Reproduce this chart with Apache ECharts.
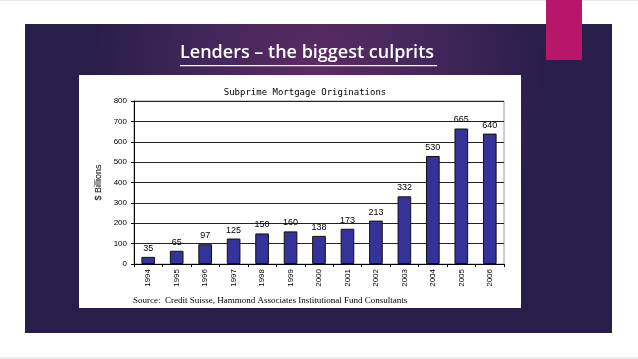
<!DOCTYPE html>
<html>
<head>
<meta charset="utf-8">
<script src="https://cdn.jsdelivr.net/npm/echarts@6/dist/echarts.min.js"></script>
<style>
html,body{margin:0;padding:0;background:#fff;}
#c{width:638px;height:359px;}
</style>
</head>
<body>
<div id="c"></div>
<script>
var years = ['1994','1995','1996','1997','1998','1999','2000','2001','2002','2003','2004','2005','2006'];
var originations = [35, 65, 97, 125, 150, 160, 138, 173, 213, 332, 530, 665, 640];
var yTicks = [0, 100, 200, 300, 400, 500, 600, 700, 800];

var chart = echarts.init(document.getElementById('c'), null, {renderer: 'canvas'});
var option = {
  animation: false,
  backgroundColor: '#ffffff',
  title: {
    text: 'Subprime Mortgage Originations',
    left: 300, top: 83, textAlign: 'center',
    textStyle: {fontFamily: 'DejaVu Sans Mono', fontSize: 9, fontWeight: 'normal', color: '#000'}
  },
  graphic: [
    {type: 'rect', z: -20, silent: true, shape: {x: 0, y: 0, width: 638, height: 1}, style: {fill: '#e8e8e8'}},
    {type: 'rect', z: -20, silent: true, shape: {x: 0, y: 357, width: 638, height: 2}, style: {fill: '#ececec'}},
    {type: 'rect', z: -10, silent: true, shape: {x: 25, y: 24, width: 587, height: 309},
      style: {fill: {type: 'radial', x: 0.5, y: 0.15, r: 0.75, colorStops: [
        {offset: 0, color: '#5d2b63'}, {offset: 0.5, color: '#42265a'}, {offset: 1, color: '#281e4a'}]}}},
    {type: 'rect', z: -9, silent: true, shape: {x: 546, y: 0, width: 36, height: 60}, style: {fill: '#b8166b'}},
    {type: 'rect', z: -8, silent: true, shape: {x: 79, y: 75, width: 442, height: 233}, style: {fill: '#ffffff'}},
    {type: 'text', z: 5, silent: true, left: 180, top: 44,
      style: {text: 'Lenders \u2013 the biggest culprits', fill: '#ffffff', font: '600 18px "Open Sans", sans-serif'}},
    {type: 'rect', z: 5, silent: true, shape: {x: 180, y: 65, width: 257, height: 1.3}, style: {fill: '#ffffff'}},
    {type: 'text', z: 5, silent: true, left: 133, top: 296,
      style: {text: 'Source:  Credit Suisse, Hammond Associates Institutional Fund Consultants', fill: '#000', font: '9px "Liberation Serif", serif'}}
  ],
  grid: {left: 134, top: 101, right: 134, bottom: 95, show: true, borderColor: '#9a9a9a', borderWidth: 1, containLabel: false},
  xAxis: {
    type: 'category', data: years,
    axisLine: {lineStyle: {color: '#000', width: 1}},
    axisTick: {show: true, length: 3, lineStyle: {color: '#000'}},
    axisLabel: {rotate: 90, fontSize: 8, fontFamily: 'Liberation Sans', color: '#000', margin: 5}
  },
  yAxis: {
    type: 'value', min: 0, max: 800, interval: 100,
    name: '$ Billions', nameLocation: 'middle', nameGap: 31, nameRotate: 90,
    nameTextStyle: {fontSize: 9, fontFamily: 'Liberation Sans', color: '#000'},
    axisLine: {show: true, lineStyle: {color: '#000'}},
    axisTick: {show: true, length: 3, lineStyle: {color: '#000'}},
    axisLabel: {fontSize: 8, fontFamily: 'Liberation Sans', color: '#000', margin: 7,
      formatter: function (v) { return yTicks.indexOf(v) >= 0 ? String(v) : ''; }},
    splitLine: {show: true, lineStyle: {color: '#222', width: 1}}
  },
  series: [{
    type: 'bar', data: originations, barWidth: '48%',
    itemStyle: {color: '#333399', borderColor: '#111', borderWidth: 1},
    label: {show: true, position: 'top', distance: 4, fontSize: 9, fontFamily: 'Liberation Sans', color: '#000'}
  }]
};
chart.setOption(option);
</script>
</body>
</html>
